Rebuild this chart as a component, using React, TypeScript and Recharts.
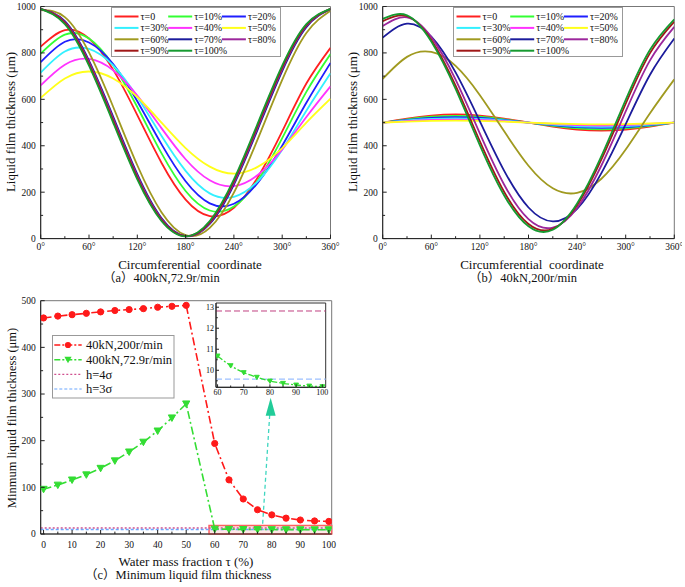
import React from "react";
import { LineChart, Line, XAxis, YAxis, ReferenceLine, ReferenceArea, ReferenceDot } from "recharts";

const SERIF = '"Liberation Serif", "Times New Roman", serif';
const CJK = '"Liberation Serif", "Noto Sans CJK SC", serif';

// (a) and (b): film thickness around the circumference
const ANGLES = [0, 30, 60, 90, 120, 150, 180, 210, 240, 270, 300, 330, 360];
const ANGLE_Y_TICKS = [0, 100, 200, 300, 400, 500, 600, 700, 800, 900, 1000];
const TAU_NAMES = ["τ=0", "τ=10%", "τ=20%", "τ=30%", "τ=40%", "τ=50%", "τ=60%", "τ=70%", "τ=80%", "τ=90%", "τ=100%"];
const TAU_COLORS = [
  "#ff2020", "#33ff33", "#1f1fff", "#33f0ff", "#ff33ff", "#ffff1a",
  "#a09a20", "#1c1c9c", "#9c279c", "#a01818", "#169a30",
];

// (a) 400kN, 72.9r/min
const A_T0 = [827, 898, 862, 728, 532, 327, 168, 97, 133, 266, 462, 668, 822];
const A_T10 = [797, 879, 862, 747, 567, 368, 205, 121, 138, 252, 433, 632, 795];
const A_T20 = [760, 848, 845, 752, 592, 407, 247, 152, 150, 242, 400, 585, 757];
const A_T30 = [715, 806, 817, 746, 610, 443, 292, 195, 180, 248, 383, 551, 712];
const A_T40 = [660, 749, 774, 725, 616, 476, 342, 251, 226, 275, 384, 524, 656];
const A_T50 = [606, 690, 720, 690, 610, 500, 390, 310, 280, 310, 390, 500, 603];
const A_T60 = [985, 954, 802, 568, 316, 114, 15, 46, 198, 432, 684, 886, 982];
const A_T70 = [989, 937, 767, 526, 278, 89, 11, 63, 233, 474, 722, 911, 989];
const A_T80 = [990, 933, 760, 517, 270, 84, 10, 67, 240, 483, 730, 916, 990];
const A_T90 = [990, 929, 752, 508, 262, 80, 10, 71, 248, 492, 738, 920, 990];
const A_T100 = [990, 924, 745, 500, 255, 76, 10, 76, 255, 500, 745, 924, 990];

// (b) 40kN, 200r/min
const B_T0 = [500, 517, 530, 535, 530, 517, 500, 483, 470, 465, 470, 483, 500];
const B_T10 = [500, 514, 525, 529, 525, 514, 500, 486, 475, 471, 475, 486, 500];
const B_T20 = [500, 511, 520, 523, 520, 511, 500, 489, 480, 477, 480, 489, 500];
const B_T30 = [500, 509, 516, 518, 516, 509, 500, 491, 484, 482, 484, 491, 500];
const B_T40 = [500, 506, 511, 513, 511, 506, 500, 494, 489, 487, 489, 494, 500];
const B_T50 = [500, 504, 507, 508, 507, 504, 500, 496, 493, 492, 493, 496, 500];
const B_T60 = [688, 783, 804, 744, 618, 462, 314, 217, 197, 258, 384, 540, 686];
const B_T70 = [866, 926, 870, 716, 505, 292, 134, 74, 128, 282, 493, 706, 862];
const B_T80 = [916, 953, 868, 685, 452, 232, 84, 47, 132, 315, 548, 768, 912];
const B_T90 = [937, 958, 856, 659, 419, 201, 63, 42, 144, 341, 581, 799, 935];
const B_T100 = [947, 962, 849, 645, 402, 186, 53, 38, 151, 355, 598, 814, 945];

const A_SERIES = [A_T0, A_T10, A_T20, A_T30, A_T40, A_T50, A_T60, A_T70, A_T80, A_T90, A_T100];
const B_SERIES = [B_T0, B_T10, B_T20, B_T30, B_T40, B_T50, B_T60, B_T70, B_T80, B_T90, B_T100];

// (c) minimum film thickness vs water mass fraction
const C_TAU = [0, 5, 10, 15, 20, 25, 30, 35, 40, 45, 50, 60, 65, 70, 75, 80, 85, 90, 95, 100];
const C_RED = [463, 467, 470, 473, 476, 479, 481, 483, 486, 488, 490, 194, 116, 75, 52, 41, 34, 30, 28, 27];
const C_GREEN = [96, 105, 116, 127, 141, 157, 176, 197, 221, 249, 279, 10.68, 10.22, 9.89, 9.67, 9.49, 9.38, 9.3, 9.25, 9.22];
const C_X_TICKS = [0, 5, 10, 15, 20, 25, 30, 35, 40, 45, 50, 55, 60, 65, 70, 75, 80, 85, 90, 95, 100];
const C_Y_TICKS = [0, 50, 100, 150, 200, 250, 300, 350, 400, 450, 500];
const C_NAMES = ["40kN,200r/min", "400kN,72.9r/min", "h=4σ", "h=3σ"];
const H_4SIGMA = 12.82;
const H_3SIGMA = 9.58;
const INSET_X_TICKS = [60, 65, 70, 75, 80, 85, 90, 95, 100];
const INSET_Y_TICKS = [9.5, 10, 10.5, 11, 11.5, 12, 12.5, 13];

const RED = "#ff1a1a";
const GREEN = "#33dd33";
const PINK = "#d0508f";
const LBLUE = "#6aa6ff";
const DASHDOT = "8 3 2 3";

function isMajor(v: number, step: number) {
  return Math.abs(v / step - Math.round(v / step)) < 1e-6;
}

function BottomTick(props: any) {
  const { x, y, payload, mStep, fmtFn, fSize, lblDy, tLen } = props;
  const v = payload.value;
  const major = isMajor(v, mStep);
  return (
    <g>
      <line x1={x} y1={y} x2={x} y2={y - (major ? tLen : tLen * 0.6)} stroke="#222" strokeWidth={1} />
      {major && (
        <text x={x} y={y + lblDy} textAnchor="middle" fontSize={fSize} fontFamily={SERIF} fill="#111">
          {fmtFn ? fmtFn(v) : String(v)}
        </text>
      )}
    </g>
  );
}

function LeftTick(props: any) {
  const { x, y, payload, mStep, fSize, gap, tLen } = props;
  const v = payload.value;
  const major = isMajor(v, mStep);
  return (
    <g>
      <line x1={x} y1={y} x2={x + (major ? tLen : tLen * 0.6)} y2={y} stroke="#222" strokeWidth={1} />
      {major && (
        <text x={x - gap} y={y + fSize * 0.35} textAnchor="end" fontSize={fSize} fontFamily={SERIF} fill="#111">
          {String(v)}
        </text>
      )}
    </g>
  );
}

const deg = (v: number) => `${v}°`;

function CurveChart({ series, marginRight }: { series: number[][]; marginRight: number }) {
  const rows = ANGLES.map((ang, i) => {
    const row: Record<string, number> = { ang };
    series.forEach((s, k) => {
      row[`s${k}`] = s[i];
    });
    return row;
  });
  return (
    <LineChart width={340} height={256} data={rows} margin={{ top: 6.5, right: marginRight, bottom: 1.4, left: 0 }}>
      <ReferenceArea x1={0} x2={360} y1={0} y2={1000} fill="none" stroke="#777" strokeWidth={1} />
      <XAxis
        dataKey="ang" type="number" domain={[0, 360]} allowDataOverflow ticks={ANGLES} interval={0}
        height={16} tickSize={0} tickMargin={0} axisLine={{ stroke: "#222" }}
        tick={<BottomTick mStep={60} fmtFn={deg} fSize={9.5} lblDy={11.5} tLen={4} />}
      />
      <YAxis
        type="number" domain={[0, 1000]} allowDataOverflow ticks={ANGLE_Y_TICKS} interval={0}
        width={40.7} tickSize={0} tickMargin={0} axisLine={{ stroke: "#222" }}
        tick={<LeftTick mStep={200} fSize={9.5} gap={5} tLen={4} />}
      />
      {series.map((_, k) => (
        <Line
          key={k} dataKey={`s${k}`} type="natural" stroke={TAU_COLORS[k]} strokeWidth={1.8}
          dot={false} activeDot={false} isAnimationActive={false}
        />
      ))}
    </LineChart>
  );
}

function TauLegend({ left }: { left: number }) {
  return (
    <svg width={170} height={50} style={{ position: "absolute", left, top: 6.5 }}>
      <rect x={0.5} y={0.5} width={169} height={49} fill="#fff" stroke="#999" />
      {TAU_NAMES.map((name, k) => {
        const col = k % 3;
        const row = Math.floor(k / 3);
        const x0 = 3.5 + col * 53.7;
        const y0 = 9.5 + row * 11.4;
        return (
          <g key={k}>
            <line x1={x0} x2={x0 + 24} y1={y0} y2={y0} stroke={TAU_COLORS[k]} strokeWidth={2} />
            <text x={x0 + 26} y={y0 + 3.5} fontSize={10} fontFamily={SERIF} fill="#111">{name}</text>
          </g>
        );
      })}
    </svg>
  );
}

const triDot = (size: number, color: string) => (p: any) => {
  const { cx, cy, index } = p;
  if (cx == null || cy == null) return <g key={index} />;
  return (
    <polygon
      key={index}
      points={`${cx - size},${cy - size * 0.8} ${cx + size},${cy - size * 0.8} ${cx},${cy + size}`}
      fill={color} stroke={color}
    />
  );
};

function MinChart() {
  const rows = C_TAU.map((tau, i) => ({ tau, red: C_RED[i], green: C_GREEN[i] }));
  return (
    <LineChart width={340} height={260} data={rows} margin={{ top: 10.7, right: 8.3, bottom: 1, left: 0 }}>
      <ReferenceArea x1={-1} x2={101} y1={0} y2={500} fill="none" stroke="#777" strokeWidth={1} />
      <ReferenceArea x1={58} x2={101} y1={0} y2={18} fill="#ffd6d6" fillOpacity={0.6} stroke="#ff6060" strokeWidth={1.5} />
      <XAxis
        dataKey="tau" type="number" domain={[-1, 101]} allowDataOverflow ticks={C_X_TICKS} interval={0}
        height={15} tickSize={0} tickMargin={0} axisLine={{ stroke: "#222" }}
        tick={<BottomTick mStep={10} fSize={9.5} lblDy={13.5} tLen={4} />}
      />
      <YAxis
        type="number" domain={[0, 500]} allowDataOverflow ticks={C_Y_TICKS} interval={0}
        width={40.7} tickSize={0} tickMargin={0} axisLine={{ stroke: "#222" }}
        tick={<LeftTick mStep={100} fSize={9.5} gap={5} tLen={4} />}
      />
      <ReferenceLine y={H_4SIGMA} stroke={PINK} strokeWidth={1.5} strokeDasharray="2 2" />
      <ReferenceLine y={H_3SIGMA} stroke={LBLUE} strokeWidth={1.5} strokeDasharray="3 2" />
      <ReferenceLine
        segment={[{ x: 76.8, y: 22 }, { x: 79.3, y: 258 }]}
        stroke="#3fd6c0" strokeWidth={1.3} strokeDasharray="4 3"
      />
      <ReferenceDot
        x={79.6} y={292} r={1}
        shape={(p: any) => (
          <polygon points={`${p.cx},${p.cy} ${p.cx - 5},${p.cy + 18} ${p.cx + 5},${p.cy + 18}`} fill="#22cc99" />
        )}
      />
      <Line
        dataKey="red" type="linear" stroke={RED} strokeWidth={1.6} strokeDasharray={DASHDOT}
        dot={{ r: 3.1, fill: RED, stroke: RED, strokeWidth: 1, strokeDasharray: "" }}
        activeDot={false} isAnimationActive={false}
      />
      <Line
        dataKey="green" type="linear" stroke={GREEN} strokeWidth={1.6} strokeDasharray={DASHDOT}
        dot={triDot(3.6, GREEN)} activeDot={false} isAnimationActive={false}
      />
    </LineChart>
  );
}

function InsetChart() {
  const rows = C_TAU.map((tau, i) => ({ tau, green: C_GREEN[i] })).filter((r) => r.tau >= 60);
  return (
    <LineChart width={134} height={98} data={rows} margin={{ top: 3, right: 4.3, bottom: 0.7, left: 0 }}>
      <ReferenceArea x1={59.4} x2={101.3} y1={9.19} y2={13.2} fill="#fff" stroke="#333" strokeWidth={1} />
      <XAxis
        dataKey="tau" type="number" domain={[59.4, 101.3]} allowDataOverflow ticks={INSET_X_TICKS} interval={0}
        height={10} tickSize={0} tickMargin={0} axisLine={{ stroke: "#222" }}
        tick={<BottomTick mStep={10} fSize={8} lblDy={8} tLen={3} />}
      />
      <YAxis
        type="number" domain={[9.19, 13.2]} allowDataOverflow ticks={INSET_Y_TICKS} interval={0}
        width={20} tickSize={0} tickMargin={0} axisLine={{ stroke: "#222" }}
        tick={<LeftTick mStep={1} fSize={8} gap={2} tLen={3} />}
      />
      <ReferenceLine y={H_4SIGMA} stroke="#c04080" strokeWidth={1} strokeDasharray="6 3" />
      <ReferenceLine y={H_3SIGMA} stroke="#9cc0ff" strokeWidth={1.2} strokeDasharray="6 3" />
      <Line
        dataKey="green" type="monotone" stroke={GREEN} strokeWidth={1.3} strokeDasharray="6 2 2 2"
        dot={triDot(2.4, GREEN)} activeDot={false} isAnimationActive={false}
      />
    </LineChart>
  );
}

function MinLegend() {
  const ys = [10, 24.7, 39.3, 54];
  return (
    <svg width={123} height={64} style={{ position: "absolute", left: 52, top: 335 }}>
      <rect x={0.5} y={0.5} width={121.5} height={62.5} fill="#fff" stroke="#999" />
      <line x1={2.3} x2={29.7} y1={ys[0]} y2={ys[0]} stroke={RED} strokeWidth={1.6} strokeDasharray="6 2 2 2" />
      <circle cx={16} cy={ys[0]} r={3.1} fill={RED} />
      <line x1={2.3} x2={29.7} y1={ys[1]} y2={ys[1]} stroke={GREEN} strokeWidth={1.6} strokeDasharray="6 2 2 2" />
      <polygon points={`${12.4},${ys[1] - 2.9} ${19.6},${ys[1] - 2.9} ${16},${ys[1] + 3.6}`} fill={GREEN} />
      <line x1={2.3} x2={29.7} y1={ys[2]} y2={ys[2]} stroke={PINK} strokeWidth={1.2} strokeDasharray="2 2" />
      <line x1={2.3} x2={29.7} y1={ys[3]} y2={ys[3]} stroke={LBLUE} strokeWidth={1.2} strokeDasharray="3 2" />
      {C_NAMES.map((n, k) => (
        <text key={k} x={34} y={ys[k] + 4.3} fontSize={12.5} fontFamily={SERIF} fill="#111">{n}</text>
      ))}
    </svg>
  );
}

function Txt({ x, y, size = 12.5, rotate = false, left = false, font = SERIF, children }: any) {
  return (
    <div
      style={{
        position: "absolute", left: x, top: y, fontSize: size, fontFamily: font, color: "#111",
        whiteSpace: "pre", lineHeight: 1,
        transform: left ? "translate(0,-50%)" : `translate(-50%,-50%)${rotate ? " rotate(-90deg)" : ""}`,
      }}
    >
      {children}
    </div>
  );
}

export default function App() {
  return (
    <div style={{ position: "absolute", left: 0, top: 0, width: 685, height: 587, background: "#fff", overflow: "hidden" }}>
      <div style={{ position: "absolute", left: 0, top: 0 }}>
        <CurveChart series={A_SERIES} marginRight={9.5} />
      </div>
      <div style={{ position: "absolute", left: 342, top: 0 }}>
        <CurveChart series={B_SERIES} marginRight={7.7} />
      </div>
      <TauLegend left={110.5} />
      <TauLegend left={452.5} />
      <Txt x={10} y={121.5} size={13} rotate>Liquid film thickness (μm)</Txt>
      <Txt x={351.7} y={121.5} size={13} rotate>Liquid film thickness (μm)</Txt>
      <Txt x={190} y={263.5} size={13}>Circumferential  coordinate</Txt>
      <Txt x={532} y={263.5} size={13}>Circumferential  coordinate</Txt>
      <Txt x={103} y={277.5} left font={CJK}>（a）400kN,72.9r/min</Txt>
      <Txt x={469} y={277.5} left font={CJK}>（b）40kN,200r/min</Txt>

      <div style={{ position: "absolute", left: 0, top: 290 }}>
        <MinChart />
      </div>
      <div style={{ position: "absolute", left: 196, top: 300 }}>
        <InsetChart />
      </div>
      <MinLegend />
      <Txt x={11.7} y={417.5} rotate>Minmum liquid film thickness (μm)</Txt>
      <Txt x={186} y={560.5} size={13}>Water mass fraction τ (%)</Txt>
      <Txt x={85} y={574.5} left font={CJK}>（c）Minimum liquid film thickness</Txt>
    </div>
  );
}
